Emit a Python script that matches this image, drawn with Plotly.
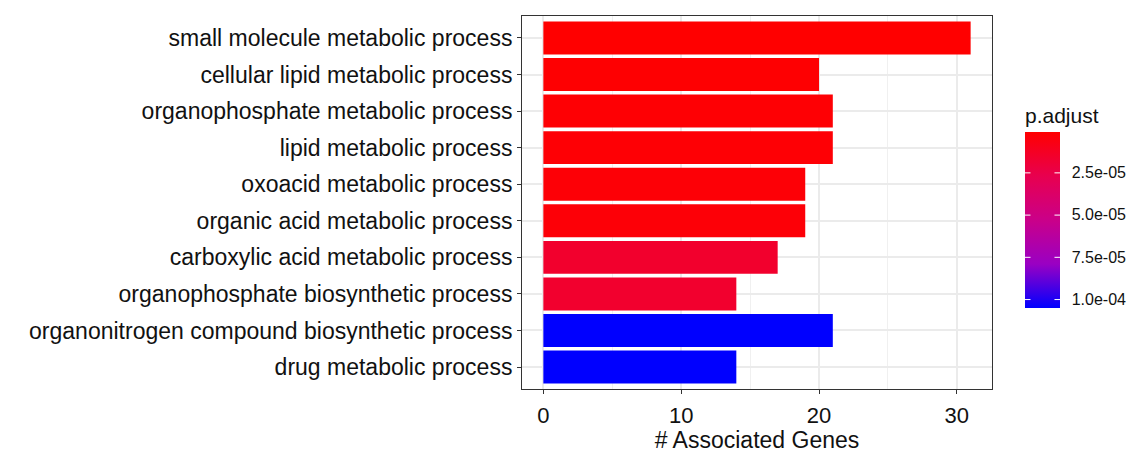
import plotly.graph_objects as go

# GO terms, top to bottom
terms = [
    "small molecule metabolic process",
    "cellular lipid metabolic process",
    "organophosphate metabolic process",
    "lipid metabolic process",
    "oxoacid metabolic process",
    "organic acid metabolic process",
    "carboxylic acid metabolic process",
    "organophosphate biosynthetic process",
    "organonitrogen compound biosynthetic process",
    "drug metabolic process",
]
gene_counts = [31, 20, 21, 21, 19, 19, 17, 14, 21, 14]
p_adjust = [1.4e-6, 2.2e-6, 2.8e-6, 2.9e-6, 3.5e-6, 3.6e-6, 1.6e-5, 1.65e-5, 1.05e-4, 1.05e-4]

cbar_tickvals = [2.5e-5, 5.0e-5, 7.5e-5, 1.0e-4]
cbar_ticktext = ["2.5e-05", "5.0e-05", "7.5e-05", "1.0e-04"]

# red (low p) -> blue (high p), interpolated in Lab like ggplot's gradient;
# values are negated so the red end sits at the top of the colour bar
lab_scale = [
    [0.0, "#0000FF"],
    [0.25, "#9A00C3"],
    [0.5, "#CA0089"],
    [0.75, "#E8004F"],
    [1.0, "#FF0000"],
]

neg_p = [-v for v in p_adjust]
cmin, cmax = min(neg_p), max(neg_p)

# plot-area geometry (pixels)
W, H = 1136, 453
M_L, M_R, M_T, M_B = 522, 144, 16, 64
plot_w = W - M_L - M_R
plot_h = H - M_T - M_B

# colour bar geometry
bar_thick = 35
bar_len = 175
title_room = 29
bar_x0 = 1.0702
bar_x1 = bar_x0 + bar_thick / plot_w
bar_bottom_px = 308
bar_y0 = (H - M_B - bar_bottom_px) / plot_h
bar_y_len = bar_len / plot_h
cb_len = bar_len + title_room
cb_center = bar_y0 + (cb_len / 2) / plot_h

font_family = "Liberation Sans, Arial, sans-serif"
axis_font = dict(family=font_family, size=23, color="#111111")
xtick_font = dict(family=font_family, size=22, color="#111111")
title_font = dict(family=font_family, size=23, color="#111111")

fig = go.Figure(
    go.Bar(
        x=gene_counts,
        y=terms,
        orientation="h",
        width=0.9,
        marker=dict(
            color=neg_p,
            cmin=cmin,
            cmax=cmax,
            colorscale=lab_scale,
            line=dict(width=0),
            colorbar=dict(
                title=dict(text="p.adjust", side="top",
                           font=dict(family=font_family, size=21, color="#111111")),
                tickvals=[-v for v in cbar_tickvals],
                ticktext=cbar_ticktext,
                ticks="outside",
                ticklen=9,
                tickcolor="rgba(0,0,0,0)",
                tickfont=dict(family=font_family, size=16, color="#111111"),
                thickness=bar_thick,
                thicknessmode="pixels",
                len=cb_len,
                lenmode="pixels",
                x=bar_x0,
                xanchor="left",
                y=cb_center,
                yanchor="middle",
                xpad=0,
                ypad=0,
                outlinewidth=0,
            ),
        ),
        hoverinfo="skip",
    )
)

# short white tick marks on both edges of the colour bar
tick_px = round(bar_thick / 5)
for v in cbar_tickvals:
    yy = bar_y0 + (-v - cmin) / (cmax - cmin) * bar_y_len
    for xa, ax in [(bar_x0, tick_px), (bar_x1, -tick_px)]:
        fig.add_annotation(
            x=xa, y=yy, xref="paper", yref="paper",
            text="", showarrow=True, arrowhead=0, arrowwidth=1,
            arrowcolor="white", ax=ax, ay=0, standoff=0, startstandoff=0,
        )

fig.update_layout(
    width=W,
    height=H,
    margin=dict(l=M_L, r=M_R, t=M_T, b=M_B, autoexpand=False),
    paper_bgcolor="white",
    plot_bgcolor="white",
    showlegend=False,
    xaxis=dict(
        automargin=False,
        range=[-1.55, 32.55],
        tickvals=[0, 10, 20, 30],
        ticks="outside",
        ticklen=4,
        tickcolor="#333333",
        tickfont=xtick_font,
        ticklabelstandoff=3,
        showgrid=True,
        gridcolor="#EBEBEB",
        gridwidth=1.5,
        minor=dict(tickvals=[5, 15, 25], showgrid=True, gridcolor="#F0F0F0", gridwidth=1, ticks=""),
        zeroline=False,
        showline=True,
        mirror=True,
        linecolor="#333333",
        linewidth=1,
        title=dict(text="# Associated Genes", font=title_font, standoff=9),
    ),
    yaxis=dict(
        automargin=False,
        categoryorder="array",
        categoryarray=terms,
        range=[9.6, -0.6],
        ticks="outside",
        ticklen=4,
        tickcolor="#333333",
        tickfont=axis_font,
        showgrid=True,
        gridcolor="#EBEBEB",
        gridwidth=1.5,
        zeroline=False,
        showline=True,
        mirror=True,
        linecolor="#333333",
        linewidth=1,
    ),
)

fig.write_html("out.html")
